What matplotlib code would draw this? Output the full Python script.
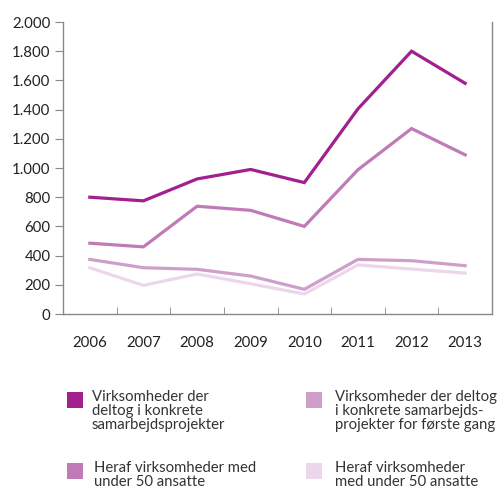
import matplotlib
matplotlib.use("Agg")
import matplotlib.pyplot as plt
from matplotlib.patches import Rectangle
from matplotlib.ticker import FuncFormatter

years = ["2006", "2007", "2008", "2009", "2010", "2011", "2012", "2013"]
total = [800, 775, 925, 990, 900, 1405, 1800, 1580]
total_small = [485, 460, 738, 710, 600, 988, 1270, 1090]
first_time = [374, 317, 306, 260, 169, 374, 365, 331]
first_time_small = [317, 196, 274, 207, 137, 336, 308, 280]

labels = [
    "Virksomheder der\ndeltog i konkrete\nsamarbejdsprojekter",
    "Virksomheder der deltog\ni konkrete samarbejds-\nprojekter for første gang",
    "Heraf virksomheder med\nunder 50 ansatte",
    "Heraf virksomheder\nmed under 50 ansatte",
]
c_total = "#a2208d"
c_first = "#cf9fcb"
c_small = "#c07ab6"
c_first_small = "#ecd7ea"

plt.rcParams['font.family'] = ['Lato', 'DejaVu Sans']

fig = plt.figure(figsize=(5.01, 4.97), dpi=100)
ax = fig.add_axes([63/501, 1-314/497, (492-63)/501, (314-22)/497])

x = list(range(len(years)))
ax.plot(x, first_time_small, color=c_first_small, lw=2.3, solid_joinstyle='miter')
ax.plot(x, first_time, color=c_first, lw=2.3, solid_joinstyle='miter')
ax.plot(x, total_small, color=c_small, lw=2.3, solid_joinstyle='miter')
ax.plot(x, total, color=c_total, lw=2.3, solid_joinstyle='miter')

ax.set_xlim(-0.5, len(years) - 0.5)
ax.set_ylim(0, 2000)
ax.set_yticks(range(0, 2001, 200))
ax.yaxis.set_major_formatter(FuncFormatter(lambda v, p: f"{int(v):,}".replace(",", ".")))
ax.set_xticks(x)
ax.set_xticklabels(years)
ax.set_xticks([i + 0.5 for i in x[:-1]], minor=True)
ax.tick_params(axis='x', which='major', length=0, pad=16, labelsize=10.8, colors='#222222')
ax.tick_params(axis='x', which='minor', length=5, direction='in', color='#888888')
ax.tick_params(axis='y', which='major', length=6, direction='out', color='#888888', labelsize=10.8, pad=3, labelcolor='#222222')

ax.spines['top'].set_visible(False)
for s in ['left', 'bottom', 'right']:
    ax.spines[s].set_color('#888888')
    ax.spines[s].set_linewidth(1)

# legend
entries = [
    (67, 392, 92, c_total, labels[0]),
    (306, 392, 335, c_first, labels[1]),
    (67, 463, 94, c_small, labels[2]),
    (306, 463, 335, c_first_small, labels[3]),
]
for sx, sy, tx, col, lab in entries:
    fig.add_artist(Rectangle((sx/501, 1-(sy+16)/497), 16/501, 16/497,
                             transform=fig.transFigure, color=col, lw=0))
    fig.text(tx/501, 1-(sy-2)/497, lab, ha='left', va='top', fontsize=10.7,
             color='#333333', linespacing=1.02)

fig.savefig("out.png", dpi=100)
